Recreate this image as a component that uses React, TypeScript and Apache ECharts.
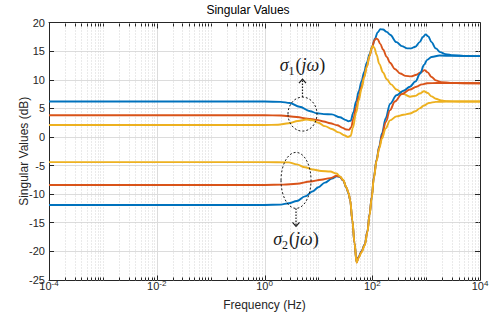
import React, { useEffect, useRef } from 'react';
import * as echarts from 'echarts';

const COLORS = ['#0072BD', '#D95319', '#EDB120'];
const X_MIN_EXP = -4;
const X_MAX_EXP = 4;
const Y_MIN = -25;
const Y_MAX = 20;
const Y_STEP = 5;

// points are [log10(frequency in Hz), singular value in dB]
const sigma1Blue: [number, number][] = [
  [-4, 6.2], [-2, 6.2], [0, 6.2], [0.3, 6.15], [0.47, 5.95], [0.65, 5.3], [0.85, 4.5], [0.97, 4.15],
  [1.1, 4.0], [1.25, 3.95], [1.4, 3.45], [1.5, 3.0], [1.56, 2.75], [1.6, 2.85], [1.65, 4.3], [1.7, 6.2],
  [1.75, 8.0], [1.8, 9.7], [1.85, 11.4], [1.9, 13.0], [1.95, 14.5], [2.0, 15.9], [2.05, 17.2], [2.1, 18.3],
  [2.15, 18.85], [2.2, 18.8], [2.27, 18.4], [2.33, 17.9], [2.45, 16.6], [2.55, 15.9], [2.65, 15.5],
  [2.72, 15.5], [2.8, 15.8], [2.88, 16.6], [2.94, 17.5], [2.99, 17.95], [3.04, 17.6], [3.1, 16.6],
  [3.18, 15.5], [3.26, 14.85], [3.36, 14.5], [3.5, 14.3], [3.7, 14.2], [4, 14.15],
];
const sigma1Orange: [number, number][] = [
  [-4, 3.8], [0, 3.8], [0.3, 3.75], [0.6, 3.5], [0.8, 3.2], [0.97, 3.0], [1.1, 2.7], [1.22, 2.4],
  [1.35, 2.05], [1.45, 1.6], [1.52, 1.3], [1.57, 1.25], [1.61, 1.7], [1.65, 3.2], [1.7, 5.2], [1.75, 7.0],
  [1.8, 8.8], [1.85, 10.6], [1.9, 12.4], [1.95, 14.2], [2.0, 15.8], [2.04, 16.9], [2.07, 17.25], [2.1, 17.1],
  [2.15, 16.3], [2.2, 15.3], [2.27, 14.0], [2.33, 13.0], [2.42, 11.9], [2.52, 11.1], [2.62, 10.7],
  [2.72, 10.6], [2.82, 10.9], [2.9, 11.3], [2.97, 11.7], [3.03, 11.3], [3.1, 10.5], [3.18, 9.9],
  [3.28, 9.6], [3.45, 9.45], [3.7, 9.4], [4, 9.4],
];
const sigma1Yellow: [number, number][] = [
  [-4, 2.1], [0, 2.1], [0.25, 2.15], [0.45, 2.4], [0.62, 2.8], [0.78, 3.05], [0.9, 2.9], [1.0, 2.5],
  [1.12, 1.9], [1.25, 1.4], [1.38, 0.8], [1.48, 0.3], [1.55, 0.0], [1.6, 0.2], [1.64, 1.6], [1.7, 4.2],
  [1.75, 6.4], [1.8, 8.4], [1.85, 10.4], [1.9, 12.3], [1.95, 14.2], [1.99, 15.6], [2.01, 15.95], [2.04, 15.6],
  [2.08, 14.4], [2.13, 12.8], [2.2, 11.3], [2.27, 10.1], [2.35, 9.2], [2.45, 8.3], [2.58, 7.5], [2.7, 7.05],
  [2.8, 7.2], [2.88, 7.6], [2.96, 8.0], [3.03, 7.7], [3.1, 7.1], [3.18, 6.7], [3.28, 6.4], [3.4, 6.25],
  [3.6, 6.2], [4, 6.2],
];
const sigma2Blue: [number, number][] = [
  [-4, -11.9], [0, -11.9], [0.3, -11.85], [0.45, -11.6], [0.6, -11.2], [0.75, -10.4], [0.9, -9.5],
  [1.0, -8.8], [1.12, -8.0], [1.25, -7.3], [1.34, -6.9], [1.4, -7.0], [1.46, -7.6], [1.52, -8.9],
  [1.56, -9.9], [1.59, -11.1], [1.63, -14.6], [1.67, -18.6], [1.71, -21.9], [1.745, -21.0], [1.8, -20.0],
  [1.86, -18.8], [1.91, -16.5], [1.95, -13.5], [1.99, -10.5], [2.03, -7.0], [2.08, -4.0], [2.13, -1.6],
  [2.18, 0.6], [2.25, 3.3], [2.33, 5.8], [2.45, 7.3], [2.58, 8.1], [2.7, 8.8], [2.8, 9.7], [2.89, 11.1],
  [2.96, 12.6], [3.02, 13.5], [3.1, 14.0], [3.25, 14.25], [3.5, 14.2], [4, 14.15],
];
const sigma2Orange: [number, number][] = [
  [-4, -8.4], [0, -8.4], [0.35, -8.35], [0.6, -8.2], [0.85, -7.8], [1.05, -7.5], [1.22, -7.2],
  [1.34, -6.8], [1.4, -6.95], [1.46, -7.55], [1.52, -8.85], [1.56, -9.85], [1.59, -11.05], [1.63, -14.55],
  [1.67, -18.55], [1.71, -22.0], [1.745, -21.1], [1.8, -20.1], [1.86, -18.9], [1.91, -16.6], [1.95, -13.6],
  [1.99, -10.6], [2.03, -7.1], [2.08, -4.1], [2.13, -1.8], [2.18, 0.2], [2.25, 2.6], [2.33, 4.7],
  [2.42, 6.2], [2.55, 7.5], [2.7, 8.3], [2.82, 8.8], [2.92, 9.2], [3.02, 9.4], [3.2, 9.45], [4, 9.4],
];
const sigma2Yellow: [number, number][] = [
  [-4, -4.4], [0, -4.4], [0.45, -4.45], [0.6, -4.8], [0.75, -5.3], [0.9, -5.7], [1.05, -5.95],
  [1.22, -6.05], [1.34, -6.4], [1.4, -6.9], [1.46, -7.5], [1.52, -8.8], [1.56, -9.8], [1.59, -11.0],
  [1.63, -14.5], [1.67, -18.5], [1.71, -22.0], [1.745, -21.2], [1.8, -20.2], [1.86, -19.0], [1.91, -16.7],
  [1.95, -13.7], [1.99, -10.7], [2.03, -7.2], [2.08, -4.2], [2.13, -2.0], [2.18, -0.3], [2.25, 1.5],
  [2.33, 2.9], [2.45, 3.6], [2.58, 3.9], [2.7, 4.1], [2.8, 4.5], [2.88, 5.0], [2.96, 5.5], [3.05, 5.95],
  [3.18, 6.15], [3.4, 6.2], [4, 6.2],
];

// annotation anchors: [log10(f), dB]
const ANNOT_SIGMA1: [number, number] = [0.705, 4.0];
const ANNOT_SIGMA2: [number, number] = [0.585, -7.6];

const toHz = (pts: [number, number][]) => pts.map(([e, db]) => [Math.pow(10, e), db]);

const SANS = 'Liberation Sans, Arial, Helvetica, sans-serif';
const SERIF = 'Liberation Serif, Times New Roman, serif';
const AXIS_COLOR = '#262626';

export default function App() {
  const ref = useRef<HTMLDivElement>(null);
  useEffect(() => {
    const chart = echarts.init(ref.current!, null, { renderer: 'svg' });

    const gridTicks: number[][] = [];
    for (let n = X_MIN_EXP; n < X_MAX_EXP; n++) {
      for (let k = 1; k <= 9; k++) {
        gridTicks.push([k * Math.pow(10, n), k === 1 ? (n % 2 === 0 ? 2 : 1) : 0]);
      }
    }
    gridTicks.push([Math.pow(10, X_MAX_EXP), 2]);

    const lineSeries = [
      { name: 'σ1 a', data: sigma1Blue, color: COLORS[0] },
      { name: 'σ1 b', data: sigma1Orange, color: COLORS[1] },
      { name: 'σ1 c', data: sigma1Yellow, color: COLORS[2] },
      { name: 'σ2 a', data: sigma2Blue, color: COLORS[0] },
      { name: 'σ2 b', data: sigma2Orange, color: COLORS[1] },
      { name: 'σ2 c', data: sigma2Yellow, color: COLORS[2] },
    ].map((s) => ({
      type: 'line',
      name: s.name,
      xAxisIndex: 0,
      yAxisIndex: 0,
      data: toHz(s.data),
      showSymbol: false,
      symbol: 'none',
      smooth: 0.35,
      smoothMonotone: 'x',
      z: 3,
      lineStyle: { width: 1.9, color: s.color },
      itemStyle: { color: s.color },
    }));

    const logAxisBase = {
      type: 'log',
      logBase: 10,
      min: Math.pow(10, X_MIN_EXP),
      max: Math.pow(10, X_MAX_EXP),
      splitNumber: 8,
      axisLine: { show: true, onZero: false, lineStyle: { color: AXIS_COLOR, width: 1 } },
      axisTick: { show: false },
      splitLine: { show: false },
      minorTick: { show: false },
      minorSplitLine: { show: false },
    };

    const option: any = {
      animation: false,
      backgroundColor: '#ffffff',
      title: {
        text: 'Singular Values',
        left: 'center',
        top: -1,
        textStyle: { fontFamily: SANS, fontSize: 12, fontWeight: 'normal', color: '#000' },
      },
      grid: { left: 49, right: 16, top: 22.7, bottom: 42.2, outerBoundsMode: 'none' },
      xAxis: [
        {
          ...logAxisBase,
          position: 'bottom',
          name: 'Frequency (Hz)',
          nameLocation: 'middle',
          nameGap: 19,
          nameMoveOverlap: false,
          nameTextStyle: { fontFamily: SANS, fontSize: 12, color: AXIS_COLOR },
          axisLabel: {
            show: true,
            margin: 0,
            color: AXIS_COLOR,
            hideOverlap: false,
            formatter: (v: number) => {
              const e = Math.round(Math.log10(v));
              if (e % 2 !== 0) return '';
              return '{b|10}{s|' + e + '}';
            },
            rich: {
              b: { fontFamily: SANS, fontSize: 11, lineHeight: 12, color: AXIS_COLOR, verticalAlign: 'bottom' },
              s: { fontFamily: SANS, fontSize: 8, lineHeight: 9, color: AXIS_COLOR, verticalAlign: 'bottom', padding: [0, 0, 4, 0] },
            },
          },
        },
        {
          ...logAxisBase,
          position: 'top',
          axisLabel: { show: false },
        },
      ],
      yAxis: [
        {
          type: 'value',
          position: 'left',
          min: Y_MIN,
          max: Y_MAX,
          interval: Y_STEP,
          name: 'Singular Values (dB)',
          nameLocation: 'middle',
          nameGap: 19,
          nameMoveOverlap: false,
          nameTextStyle: { fontFamily: SANS, fontSize: 12, color: AXIS_COLOR },
          axisLine: { show: true, onZero: false, lineStyle: { color: AXIS_COLOR, width: 1 } },
          axisTick: { show: true, inside: true, length: 5, lineStyle: { color: AXIS_COLOR } },
          axisLabel: { margin: 4, fontFamily: SANS, fontSize: 11, color: AXIS_COLOR, verticalAlign: 'middle' },
          splitLine: { show: true, lineStyle: { color: '#dcdcdc', width: 1 } },
        },
        {
          type: 'value',
          position: 'right',
          min: Y_MIN,
          max: Y_MAX,
          interval: Y_STEP,
          axisLine: { show: true, onZero: false, lineStyle: { color: AXIS_COLOR, width: 1 } },
          axisTick: { show: true, inside: true, length: 5, lineStyle: { color: AXIS_COLOR } },
          axisLabel: { show: false },
          splitLine: { show: false },
        },
      ],
      series: [
        {
          type: 'custom',
          name: 'grid',
          xAxisIndex: 0,
          yAxisIndex: 0,
          silent: true,
          clip: false,
          z: 1,
          encode: { x: 0, y: 1 },
          data: gridTicks,
          renderItem: (params: any, api: any) => {
            const v = api.value(0);
            const kind = api.value(1);
            const b = api.coord([v, Y_MIN]);
            const t = api.coord([v, Y_MAX]);
            const x = Math.round(b[0]) + 0.5;
            const yb = Math.round(b[1]) + 0.5;
            const yt = Math.round(t[1]) + 0.5;
            const children: any[] = [];
            const isEdge = v <= Math.pow(10, X_MIN_EXP) * 1.001 || v >= Math.pow(10, X_MAX_EXP) * 0.999;
            if (!isEdge) {
              children.push({
                type: 'line',
                shape: { x1: x, y1: yb, x2: x, y2: yt },
                style: kind === 2
                  ? { stroke: '#dcdcdc', lineWidth: 1 }
                  : { stroke: '#d4d4d4', lineWidth: 1, lineDash: [1, 2] },
              });
            }
            const len = kind === 2 ? 5 : 3;
            children.push({ type: 'line', shape: { x1: x, y1: yb, x2: x, y2: yb - len }, style: { stroke: AXIS_COLOR, lineWidth: 1 } });
            children.push({ type: 'line', shape: { x1: x, y1: yt, x2: x, y2: yt + len }, style: { stroke: AXIS_COLOR, lineWidth: 1 } });
            return { type: 'group', children };
          },
        },
        ...lineSeries,
      ],
    };

    chart.setOption(option);

    const rich = {
      i: { fontFamily: SERIF, fontStyle: 'italic', fontSize: 18, color: '#1a1a1a', verticalAlign: 'top' },
      r: { fontFamily: SERIF, fontSize: 18, color: '#1a1a1a', verticalAlign: 'top' },
      s: { fontFamily: SERIF, fontSize: 12, color: '#1a1a1a', verticalAlign: 'top', padding: [9, 1, 0, 0] },
    };
    const stroke = '#1a1a1a';
    const makeAnnot = (anchor: [number, number], rx: number, ry: number, up: boolean, sub: string) => {
      const p = chart.convertToPixel({ xAxisIndex: 0, yAxisIndex: 0 }, [Math.pow(10, anchor[0]), anchor[1]]) as number[];
      const cx = p[0];
      const cy = p[1];
      const startY = up ? cy - ry : cy + ry;
      const tipY = up ? startY - 18 : startY + 18;
      const head = up
        ? [[cx - 3.5, tipY + 4], [cx, tipY], [cx + 3.5, tipY + 4]]
        : [[cx - 3.5, tipY - 4], [cx, tipY], [cx + 3.5, tipY - 4]];
      const labelY = up ? cy - 48 : cy + 60;
      return [
        { type: 'ellipse', silent: true, z: 10, shape: { cx, cy, rx, ry }, style: { fill: 'none', stroke, lineWidth: 1, lineDash: [2, 2] } },
        { type: 'line', silent: true, z: 10, shape: { x1: cx, y1: startY, x2: cx, y2: tipY }, style: { stroke, lineWidth: 1.2, lineDash: [1.5, 1.5] } },
        { type: 'polyline', silent: true, z: 10, shape: { points: head }, style: { fill: 'none', stroke, lineWidth: 1.2 } },
        {
          type: 'text',
          silent: true,
          z: 10,
          x: cx,
          y: labelY,
          style: {
            text: '{i|σ}{s|' + sub + '}{r|(}{i|jω}{r|)}',
            rich,
            align: 'center',
            verticalAlign: 'middle',
            fill: '#1a1a1a',
          },
        },
      ];
    };

    chart.setOption({
      graphic: [
        ...makeAnnot(ANNOT_SIGMA1, 14.5, 17, true, '1'),
        ...makeAnnot(ANNOT_SIGMA2, 15, 28, false, '2'),
      ],
    });

    return () => chart.dispose();
  }, []);
  return <div ref={ref} style={{ position: 'fixed', left: 0, top: 0, width: 496, height: 322 }} />;
}
